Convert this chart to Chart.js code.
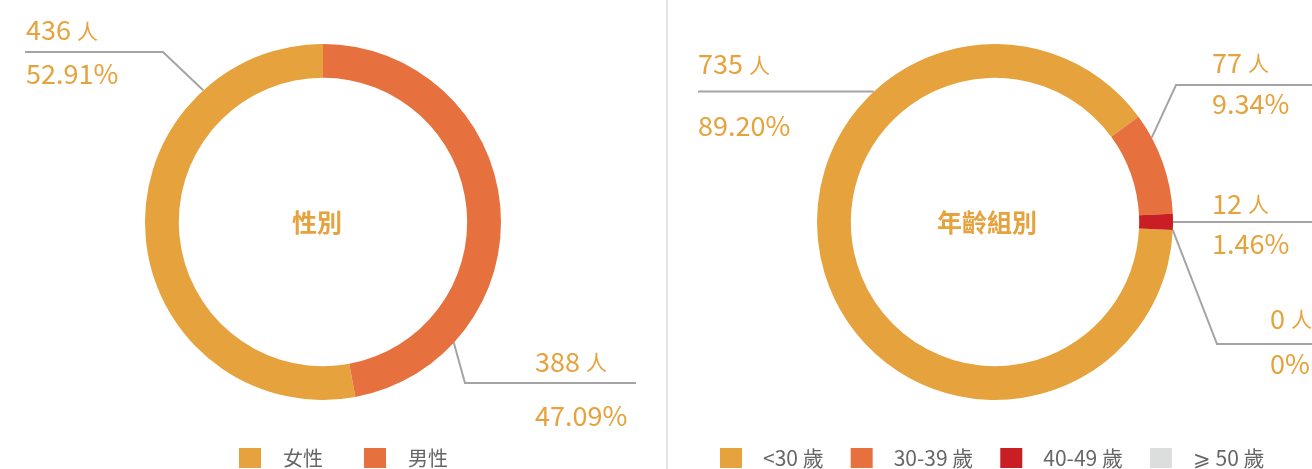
<!DOCTYPE html>
<html><head><meta charset="utf-8">
<script src="https://cdn.jsdelivr.net/npm/chart.js@4.4.0/dist/chart.umd.min.js"></script>
<style>
html,body{margin:0;padding:0;background:#fff;}
body{width:1312px;height:469px;position:relative;overflow:hidden;font-family:"Noto Sans CJK TC",sans-serif;}
#c1{position:absolute;left:0;top:0;}
#c2{position:absolute;left:668px;top:0;}
#divider{position:absolute;left:666px;top:0;width:2px;height:469px;background:#e3e3e3;}
</style></head><body>
<canvas id="c1" width="666" height="469"></canvas>
<div id="divider"></div>
<canvas id="c2" width="644" height="469"></canvas>
<script>
// ---- data ----
const genderTitle = '性別';
const genderLabels = ['女性', '男性'];
const genderValues = [436, 388];

const ageTitle = '年齡組別';
const ageLabels = ['<30 歲', '30-39 歲', '40-49 歲', '⩾ 50 歲'];
const ageValues = [735, 77, 12, 0];

const unit = '人';

// ---- styles ----
const YELLOW = '#E6A23C', ORANGE = '#E6703E', RED = '#C81E24', GRAY = '#DCDDDD';
const genderColors = [YELLOW, ORANGE];
const ageColors = [YELLOW, ORANGE, RED, GRAY];
const FONT = '"Noto Sans CJK TC","Noto Sans CJK SC",sans-serif';

function pct(v, total) {
  if (!v) return '0%';
  return (v / total * 100).toFixed(2) + '%';
}

// label layout (canvas coords): anchor angle on the ring, elbow, line end, text position
const genderLabelLayout = [
  {angle: 317.7, elbow: [163, 52], end: 25, textX: 26, numY: 30, pctY: 74},
  {angle: 132.7, elbow: [465, 383], end: 636, textX: 535, numY: 361.5, pctY: 416}
];
const ageLabelLayout = [
  {angle: 317.1, elbow: null, end: 30, textX: 30, numY: 64, pctY: 126},
  {angle: 61.7, elbow: [508, 85], end: 644, textX: 544, numY: 62.5, pctY: 104},
  {angle: 90.0, elbow: null, end: 644, textX: 544, numY: 203.5, pctY: 244},
  {angle: 92.6, elbow: [549, 344], end: 644, textX: 602, numY: 318.5, pctY: 364}
];

const decorPlugin = {
  id: 'decor',
  afterDraw(chart) {
    const cfg = chart.options.plugins.decor;
    const ctx = chart.ctx;
    const meta = chart.getDatasetMeta(0);
    const values = chart.data.datasets[0].data;
    const total = values.reduce((a, b) => a + b, 0);
    ctx.save();
    // center title
    const a0 = meta.data[0];
    ctx.fillStyle = YELLOW;
    ctx.font = 'bold 25px ' + FONT;
    ctx.textAlign = 'center';
    ctx.textBaseline = 'middle';
    ctx.fillText(cfg.title, a0.x + cfg.titleDx, a0.y);

    // labels with lines
    cfg.layout.forEach((L, i) => {
      const arc = meta.data[i];
      const ang = L.angle * Math.PI / 180;
      const R = arc.outerRadius;
      const ax = arc.x + R * Math.sin(ang);
      const ay = arc.y - R * Math.cos(ang);
      ctx.strokeStyle = '#a4a4a4';
      ctx.lineWidth = 2;
      ctx.beginPath();
      ctx.moveTo(ax, ay);
      let ly = ay;
      if (L.elbow) { ctx.lineTo(L.elbow[0], L.elbow[1]); ly = L.elbow[1]; }
      ctx.lineTo(L.end, ly);
      ctx.stroke();

      ctx.fillStyle = YELLOW;
      ctx.textAlign = 'left';
      ctx.textBaseline = 'middle';
      ctx.font = '27px ' + FONT;
      const numStr = String(values[i]);
      ctx.fillText(numStr, L.textX, L.numY);
      const w = ctx.measureText(numStr + ' ').width;
      ctx.font = '21px ' + FONT;
      ctx.fillText(unit, L.textX + w, L.numY + 1);
      ctx.font = '27px ' + FONT;
      ctx.fillText(pct(values[i], total), L.textX, L.pctY);
    });

    // legend
    const colors = chart.data.datasets[0].backgroundColor;
    ctx.font = cfg.legend.fontSize + 'px ' + FONT;
    ctx.textBaseline = 'middle';
    ctx.textAlign = 'left';
    let x = cfg.legend.x;
    const y = cfg.legend.y;
    chart.data.labels.forEach((lab, i) => {
      ctx.fillStyle = colors[i];
      ctx.fillRect(x, y, 22, 20);
      x += 22 + cfg.legend.textGap;
      ctx.fillStyle = '#666666';
      ctx.fillText(lab, x, y + 10);
      x += ctx.measureText(lab).width + cfg.legend.itemGap;
    });
    ctx.restore();
  }
};

function makeChart(id, labels, values, colors, rotation, padding, decor) {
  return new Chart(document.getElementById(id), {
    type: 'doughnut',
    data: {labels: labels, datasets: [{data: values, backgroundColor: colors, borderWidth: 0, hoverOffset: 0}]},
    options: {
      responsive: false,
      animation: false,
      devicePixelRatio: 1,
      cutout: '81%',
      rotation: rotation,
      events: [],
      layout: {padding: padding},
      plugins: {legend: {display: false}, tooltip: {enabled: false}, decor: decor}
    },
    plugins: [decorPlugin]
  });
}

const genderTotal = genderValues.reduce((a, b) => a + b, 0);
// female is drawn counter-clockwise from the top: start it at the male share
makeChart('c1', genderLabels, genderValues, genderColors,
  360 * genderValues[1] / genderTotal,
  {left: 145, right: 165, top: 44, bottom: 69},
  {title: genderTitle, titleDx: -6, layout: genderLabelLayout,
   legend: {x: 239, y: 448, fontSize: 20, textGap: 22, itemGap: 41}});

makeChart('c2', ageLabels, ageValues, ageColors,
  92.6,
  {left: 149, right: 139, top: 44, bottom: 69},
  {title: ageTitle, titleDx: -8, layout: ageLabelLayout,
   legend: {x: 52, y: 448, fontSize: 21, textGap: 21, itemGap: 27}});
</script>
</body></html>
